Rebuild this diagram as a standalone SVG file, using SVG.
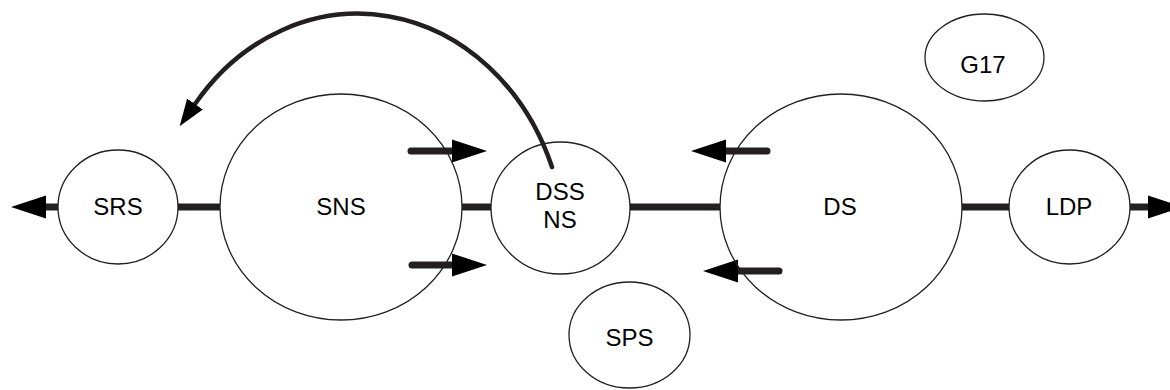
<svg xmlns="http://www.w3.org/2000/svg" width="1170" height="390" viewBox="0 0 1170 390">
<style>
.node{fill:none;stroke:#231f20;stroke-width:1.3}
.lbl{font-family:"Liberation Sans",Arial,sans-serif;font-size:24px;fill:#000;text-anchor:middle}
.link{fill:none;stroke:#231f20;stroke-width:7}
.arr{fill:none;stroke:#231f20;stroke-width:7;stroke-linecap:round}
.curve{fill:none;stroke:#231f20;stroke-width:4.5;stroke-linecap:round}
</style>
<defs>
<marker id="head" markerUnits="userSpaceOnUse" viewBox="0 -12 40 24" markerWidth="40" markerHeight="24" refX="0" refY="0" orient="auto">
<path d="M0,-11.5 L35,0 L0,11.5 Z" fill="#000"/>
</marker>
<marker id="headS" markerUnits="userSpaceOnUse" viewBox="0 -11 30 22" markerWidth="30" markerHeight="22" refX="0" refY="0" orient="auto">
<path d="M0,-9.5 L27,0 L0,9.5 Z" fill="#000"/>
</marker>
</defs>
<g id="connectors">
<line class="link" x1="58" y1="207" x2="46" y2="207" marker-end="url(#head)"/>
<line class="link" x1="178" y1="207" x2="220" y2="207"/>
<line class="link" x1="462" y1="207" x2="491" y2="207"/>
<line class="link" x1="630" y1="207" x2="720" y2="207"/>
<line class="link" x1="962" y1="207" x2="1009" y2="207"/>
<line class="link" x1="1130" y1="207" x2="1148" y2="207" marker-end="url(#head)"/>
<line class="arr" x1="411" y1="151" x2="452" y2="151" marker-end="url(#head)"/>
<line class="arr" x1="412" y1="265" x2="452" y2="265" marker-end="url(#head)"/>
<line class="arr" x1="767" y1="151" x2="726" y2="151" marker-end="url(#head)"/>
<line class="arr" x1="779" y1="271" x2="738" y2="271" marker-end="url(#head)"/>
<path class="curve" d="M552,167 A208,239 0 0 0 195,104" marker-end="url(#headS)"/>
</g>
<g id="SRS"><ellipse class="node" cx="118" cy="207" rx="60" ry="57"/><text class="lbl" x="118" y="215">SRS</text></g>
<g id="SNS"><ellipse class="node" cx="341" cy="207" rx="121" ry="113"/><text class="lbl" x="341" y="215">SNS</text></g>
<g id="DSSNS"><ellipse class="node" cx="560.5" cy="208" rx="69.5" ry="66"/><text class="lbl" x="560" y="200">DSS</text><text class="lbl" x="560" y="228">NS</text></g>
<g id="DS"><ellipse class="node" cx="841" cy="207" rx="121" ry="113"/><text class="lbl" x="840" y="215">DS</text></g>
<g id="LDP"><ellipse class="node" cx="1069.5" cy="207" rx="60.5" ry="57"/><text class="lbl" x="1069" y="215">LDP</text></g>
<g id="G17"><ellipse class="node" cx="984.5" cy="57.5" rx="59.5" ry="43.5"/><text class="lbl" x="983" y="73">G17</text></g>
<g id="SPS"><ellipse class="node" cx="629.5" cy="335" rx="60.5" ry="53"/><text class="lbl" x="629.5" y="346">SPS</text></g>
</svg>
